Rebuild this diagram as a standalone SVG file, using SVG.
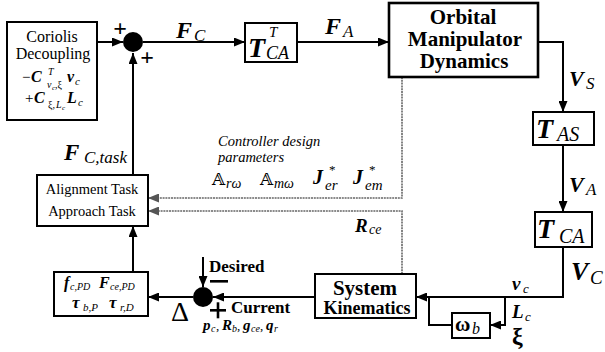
<svg xmlns="http://www.w3.org/2000/svg" width="605" height="352" viewBox="0 0 605 352" font-family="'Liberation Serif', Tinos, 'Times New Roman', 'DejaVu Serif', serif">
<style>
text, tspan{font-family:"Liberation Serif", Tinos, "Times New Roman", "DejaVu Serif", serif}
.box{fill:#fff;stroke:#000;stroke-width:2}
.thick{fill:#fff;stroke:#000;stroke-width:2.6}
.ln{fill:none;stroke:#000;stroke-width:2}
.dl{fill:none;stroke:#666;stroke-width:1.6;stroke-dasharray:2 0.8}
.bi{font-weight:bold;font-style:italic}
.it{font-style:italic}
.b{font-weight:bold}
tspan.ds{font-family:"DejaVu Serif","DejaVu Sans",serif}
</style>
<defs>
<marker id="ah" markerUnits="userSpaceOnUse" markerWidth="11" markerHeight="9" refX="11" refY="4.5" orient="auto"><path d="M0,0 L11,4.5 L0,9 z" fill="#000"/></marker>
<marker id="ag" markerUnits="userSpaceOnUse" markerWidth="11" markerHeight="9" refX="11" refY="4.5" orient="auto"><path d="M0,0 L11,4.5 L0,9 z" fill="#555"/></marker>
</defs>

<g id="connectors">
<path class="ln" d="M97,42 H123" marker-end="url(#ah)"/>
<path class="ln" d="M143,42 H245" marker-end="url(#ah)"/>
<path class="ln" d="M297,42 H389" marker-end="url(#ah)"/>
<path class="ln" d="M538,42 H563 V112" marker-end="url(#ah)"/>
<path class="ln" d="M563,145 V212" marker-end="url(#ah)"/>
<path class="ln" d="M563,247 V297 H416" marker-end="url(#ah)"/>
<path class="ln" d="M505,297 V325 H490" marker-end="url(#ah)"/>
<path class="ln" d="M452,325 H429 V297"/>
<path class="ln" d="M315,297 H213" marker-end="url(#ah)"/>
<path class="ln" d="M193,297 H148" marker-end="url(#ah)"/>
<path class="ln" d="M133,272 V226" marker-end="url(#ah)"/>
<path class="ln" d="M133,175 V53" marker-end="url(#ah)"/>
<path class="ln" d="M203,257 V287" marker-end="url(#ah)"/>
<path class="dl" d="M402,77 V198 H148" marker-end="url(#ag)"/>
<path class="dl" d="M402,274 V211 H148" marker-end="url(#ag)"/>
</g>

<g id="coriolis">
<rect class="box" x="7" y="22" width="90" height="98"/>
<text x="52" y="42" font-size="16" text-anchor="middle">Coriolis</text>
<text x="53" y="59" font-size="16" text-anchor="middle">Decoupling</text>
<text y="82"><tspan x="22" font-size="15">−</tspan><tspan x="31" class="bi" font-size="16">C</tspan><tspan x="48" y="75" class="it" font-size="10">T</tspan><tspan x="47" y="88" class="it" font-size="10">v</tspan><tspan x="52" y="90" class="it" font-size="7">c</tspan><tspan x="55" y="88" font-size="10">,ξ</tspan><tspan x="67" y="82" class="bi" font-size="16">v</tspan><tspan x="75" y="85" class="it" font-size="11">c</tspan></text>
<text y="103"><tspan x="25" font-size="15">+</tspan><tspan x="34" class="bi" font-size="16">C</tspan><tspan x="48" y="108" font-size="10">ξ,</tspan><tspan x="56" y="108" class="it" font-size="10">L</tspan><tspan x="62" y="110" class="it" font-size="7">c</tspan><tspan x="67" y="103" class="bi" font-size="16">L</tspan><tspan x="78" y="106" class="it" font-size="11">c</tspan></text>
</g>

<g id="sum1">
<circle cx="133" cy="42" r="10" fill="#000"/>
<text x="120" y="36" font-size="24" font-weight="bold" text-anchor="middle">+</text>
<text x="147" y="65" font-size="24" font-weight="bold" text-anchor="middle">+</text>
</g>

<g id="label-fc">
<text y="38"><tspan x="176" class="bi" font-size="24">F</tspan><tspan x="194" y="41" class="it" font-size="17">C</tspan></text>
</g>

<g id="tct">
<rect class="box" x="245" y="23" width="52" height="39" stroke-width="1.8"/>
<text y="57"><tspan x="248" class="bi" font-size="28">T</tspan><tspan x="269" y="37" class="it" font-size="15">T</tspan><tspan x="266" y="59" class="it" font-size="18">CA</tspan></text>
</g>

<g id="label-fa">
<text y="34"><tspan x="325" class="bi" font-size="24">F</tspan><tspan x="343" y="37" class="it" font-size="17">A</tspan></text>
</g>

<g id="orbital">
<rect class="thick" x="389" y="3" width="149" height="74"/>
<text x="463" y="24" font-size="21" class="b" text-anchor="middle">Orbital</text>
<text x="465" y="46" font-size="21" class="b" text-anchor="middle">Manipulator</text>
<text x="464" y="68" font-size="21" class="b" text-anchor="middle">Dynamics</text>
</g>

<g id="label-vs">
<text y="86"><tspan x="569" class="bi" font-size="22">V</tspan><tspan x="586" y="89" class="it" font-size="17">S</tspan></text>
</g>

<g id="tas">
<rect class="box" x="533" y="112" width="61" height="33"/>
<text y="138"><tspan x="536" class="bi" font-size="28">T</tspan><tspan x="557" y="141" class="it" font-size="20">AS</tspan></text>
</g>

<g id="label-va">
<text y="192"><tspan x="569" class="bi" font-size="22">V</tspan><tspan x="586" y="195" class="it" font-size="17">A</tspan></text>
</g>

<g id="tca">
<rect class="box" x="535" y="212" width="57" height="35"/>
<text y="238"><tspan x="537" class="bi" font-size="28">T</tspan><tspan x="559" y="243" class="it" font-size="20">CA</tspan></text>
</g>

<g id="label-vc">
<text y="280"><tspan x="571" class="bi" font-size="26">V</tspan><tspan x="590" y="284" class="it" font-size="19">C</tspan></text>
<text y="290"><tspan x="512" class="bi" font-size="19">v</tspan><tspan x="523" y="293" class="it" font-size="13">c</tspan></text>
<text y="318"><tspan x="512" class="bi" font-size="19">L</tspan><tspan x="525" y="321" class="it" font-size="13">c</tspan></text>
<text x="512" y="344" class="b" font-size="24">ξ</text>
</g>

<g id="omega">
<rect class="box" x="452" y="313" width="38" height="25"/>
<text y="331"><tspan x="455" class="b" font-size="21">ω</tspan><tspan x="472" y="334" class="it" font-size="16">b</tspan></text>
</g>

<g id="syskin">
<rect class="box" x="315" y="274" width="101" height="44"/>
<text x="365" y="295" font-size="21" class="b" text-anchor="middle">System</text>
<text x="367" y="314" font-size="18" class="b" text-anchor="middle">Kinematics</text>
</g>

<g id="params">
<text x="218" y="146" class="it" font-size="14.5">Controller design</text>
<text x="218" y="162" class="it" font-size="14.5">parameters</text>
<text y="185"><tspan x="212" class="ds" font-size="17">𝔸</tspan><tspan x="226" y="188" class="it" font-size="14">rω</tspan></text>
<text y="185"><tspan x="260" class="ds" font-size="17">𝔸</tspan><tspan x="274" y="188" class="it" font-size="14">mω</tspan></text>
<text y="184"><tspan x="313" class="bi" font-size="20">J</tspan><tspan x="329" y="174" font-size="13">*</tspan><tspan x="325" y="190" class="it" font-size="15">er</tspan></text>
<text y="184"><tspan x="353" class="bi" font-size="20">J</tspan><tspan x="369" y="174" font-size="13">*</tspan><tspan x="365" y="190" class="it" font-size="15">em</tspan></text>
<text y="232"><tspan x="355" class="bi" font-size="19">R</tspan><tspan x="369" y="234" class="it" font-size="14">ce</tspan></text>
</g>

<g id="label-fctask">
<text y="160"><tspan x="64" class="bi" font-size="23">F</tspan><tspan x="84" y="163" class="it" font-size="17">C,task</tspan></text>
</g>

<g id="alignment">
<rect class="box" x="37" y="175" width="111" height="51"/>
<text x="92" y="194" font-size="14.5" text-anchor="middle">Alignment Task</text>
<text x="92" y="216" font-size="14.5" text-anchor="middle">Approach Task</text>
</g>

<g id="gains">
<rect class="box" x="54" y="272" width="94" height="44"/>
<text y="288"><tspan x="64" class="bi" font-size="16">f</tspan><tspan x="70" y="290" class="it" font-size="10">c,PD</tspan><tspan x="99" y="288" class="bi" font-size="16">F</tspan><tspan x="110" y="290" class="it" font-size="10">ce,PD</tspan></text>
<text y="308"><tspan x="72" class="bi" font-size="17">τ</tspan><tspan x="83" y="311" class="it" font-size="11">b,P</tspan><tspan x="109" y="308" class="bi" font-size="17">τ</tspan><tspan x="120" y="311" class="it" font-size="11">r,D</tspan></text>
</g>

<g id="sum2">
<circle cx="203" cy="297" r="10" fill="#000"/>
<text x="171" y="321" font-size="28">Δ</text>
<text x="209" y="272" font-size="17" class="b">Desired</text>
<rect x="210" y="280" width="18" height="2.6" fill="#000"/>
<rect x="210" y="309" width="16" height="2.6" fill="#000"/>
<rect x="216.7" y="302.3" width="2.6" height="16" fill="#000"/>
<text x="231" y="313" font-size="17" class="b">Current</text>
<text y="330"><tspan x="203" class="bi" font-size="15">p</tspan><tspan x="211" y="332" class="it" font-size="10">c</tspan><tspan x="216" y="330" font-size="13">,</tspan><tspan x="222" class="bi" font-size="15">R</tspan><tspan x="232" y="332" class="it" font-size="10">b</tspan><tspan x="237" y="330" font-size="13">,</tspan><tspan x="243" class="bi" font-size="15">g</tspan><tspan x="251" y="332" class="it" font-size="10">ce</tspan><tspan x="260" y="330" font-size="13">,</tspan><tspan x="266" class="bi" font-size="15">q</tspan><tspan x="274" y="332" class="it" font-size="10">r</tspan></text>
</g>
</svg>
